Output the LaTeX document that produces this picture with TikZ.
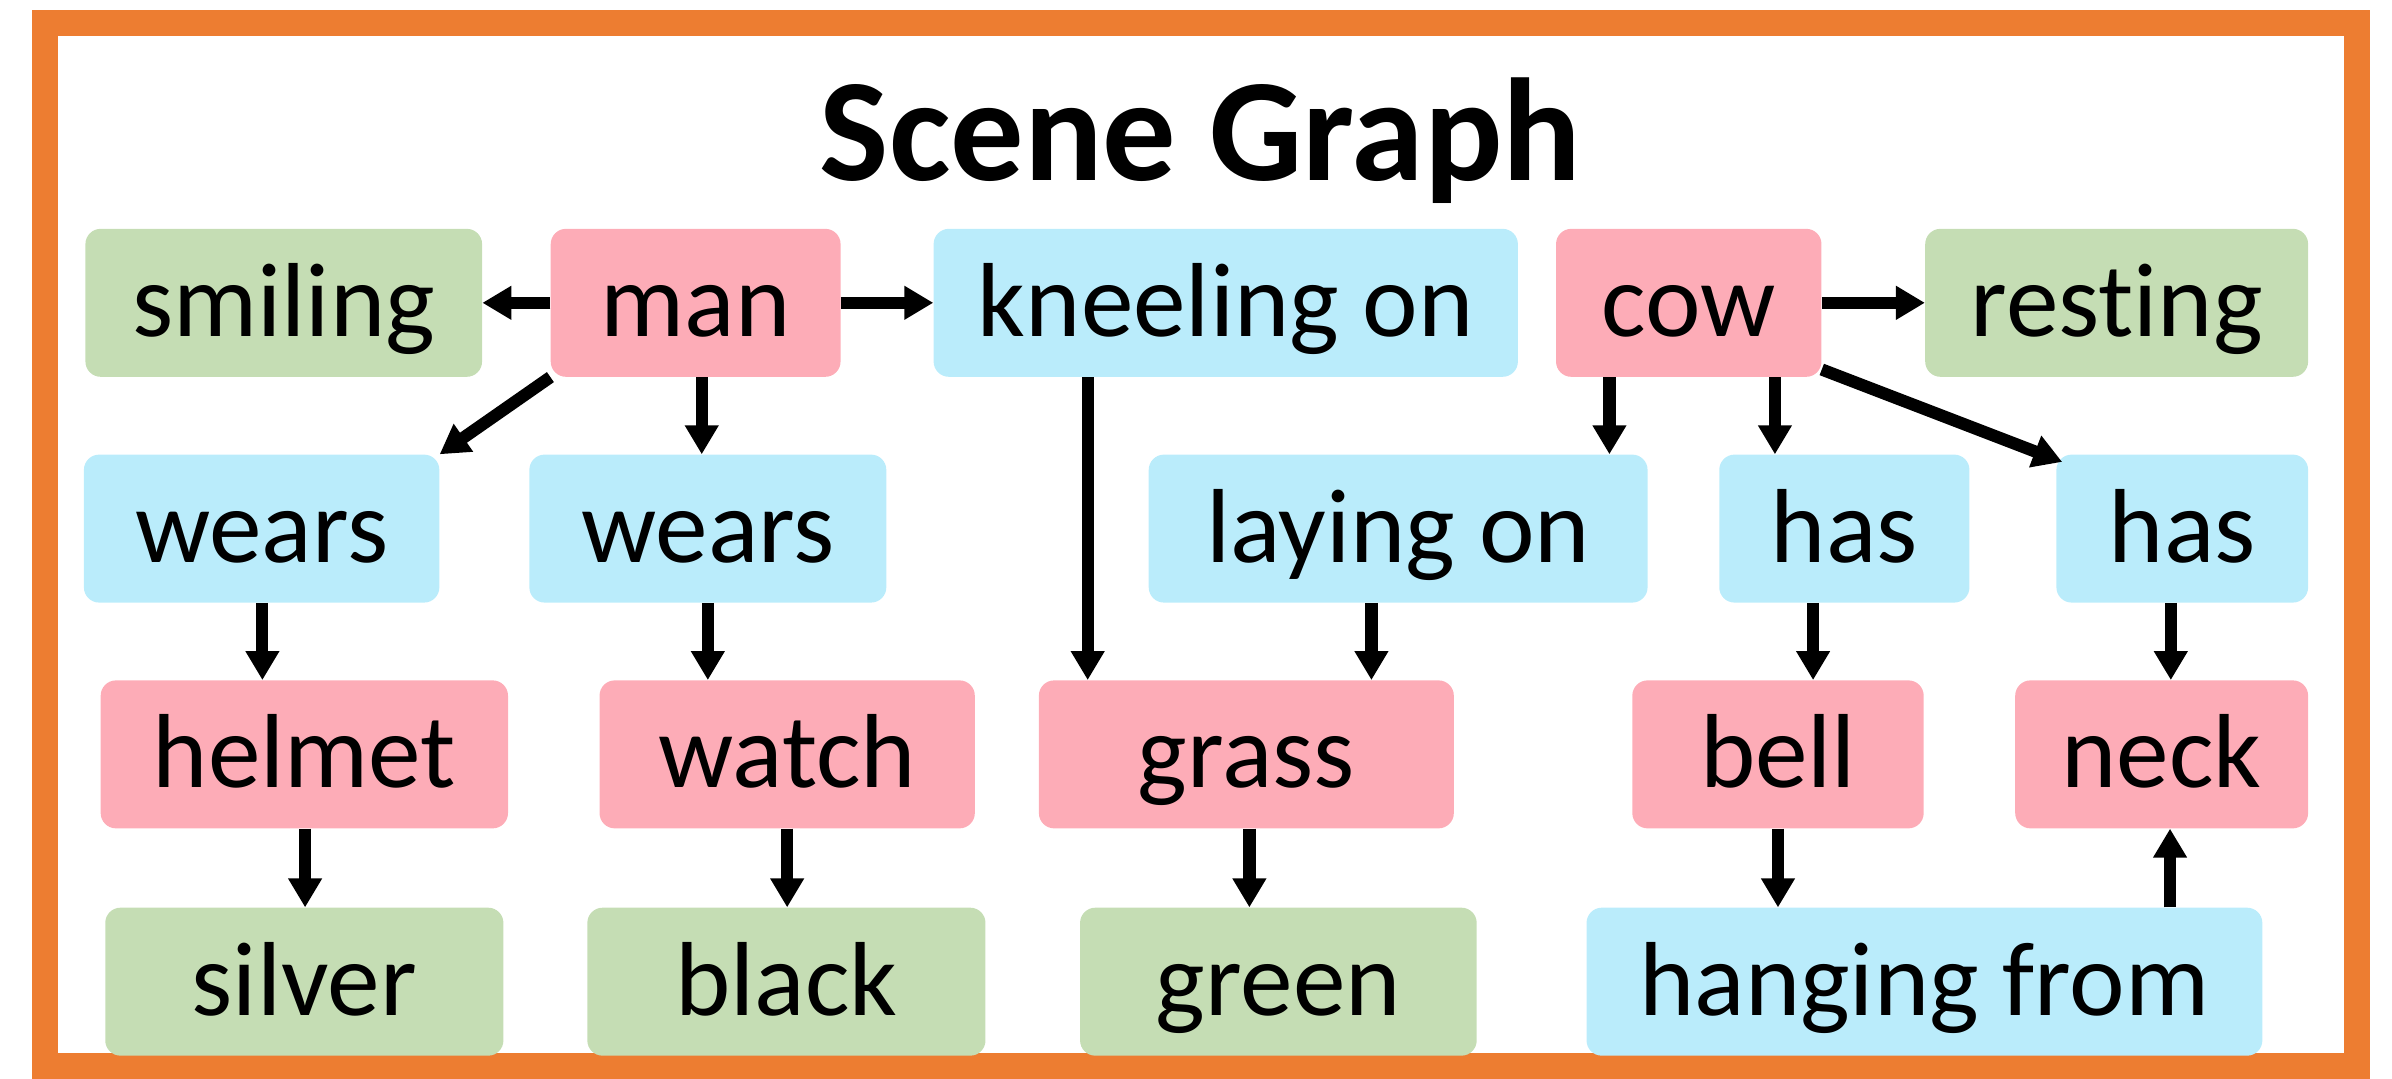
\documentclass[tikz,border=0pt]{standalone}
\usepackage{fontspec}
\setmainfont{Carlito}[RawFeature={-liga;-dlig;-clig}]
\usetikzlibrary{arrows.meta}
\definecolor{frameor}{HTML}{ED7D31}
\definecolor{objpink}{HTML}{FDACB7}
\definecolor{relblue}{HTML}{BAECFB}
\definecolor{attgreen}{HTML}{C5DDB4}
\tikzset{
  box/.style={rectangle, rounded corners=10pt, inner sep=0pt, minimum height=97pt,
    font=\fontsize{69}{69}\selectfont, text height=51pt, text depth=7pt},
  obj/.style={box, fill=objpink},
  rel/.style={box, fill=relblue},
  att/.style={box, fill=attgreen},
  arr/.style={line width=8pt, -{Triangle[width=21pt,length=19pt]}, black}
}
\begin{document}
\begin{tikzpicture}[x=1pt,y=-1pt]
\useasboundingbox (0,0) rectangle (1568,707);
\draw[frameor, line width=17pt] (29.5,15) rectangle (1545,698.5);
\node[font=\bfseries\fontsize{96}{96}\selectfont, anchor=base, inner sep=0pt] (title) at (787,118) {Scene Graph};
% row 1
\node[att, minimum width=260pt] (smiling) at (186,198.5) {smiling};
\node[obj, minimum width=190pt] (man) at (456,198.5) {man};
\node[rel, minimum width=383pt] (kneeling) at (803.5,198.5) {kneeling on};
\node[obj, minimum width=174pt] (cow) at (1107,198.5) {cow};
\node[att, minimum width=251pt] (resting) at (1387.5,198.5) {resting};
% row 2
\node[rel, minimum width=233pt] (wears1) at (171.5,346.5) {wears};
\node[rel, minimum width=234pt] (wears2) at (464,346.5) {wears};
\node[rel, minimum width=327pt] (laying) at (916.5,346.5) {laying on};
\node[rel, minimum width=164pt] (has1) at (1209,346.5) {has};
\node[rel, minimum width=165pt] (has2) at (1430.5,346.5) {has};
% row 3
\node[obj, minimum width=267pt] (helmet) at (199.5,494.5) {helmet};
\node[obj, minimum width=246pt] (watch) at (516,494.5) {watch};
\node[obj, minimum width=272pt] (grass) at (817,494.5) {grass};
\node[obj, minimum width=191pt] (bell) at (1165.5,494.5) {bell};
\node[obj, minimum width=192pt] (neck) at (1417,494.5) {neck};
% row 4
\node[att, minimum width=261pt] (silver) at (199.5,643.5) {silver};
\node[att, minimum width=261pt] (black) at (515.5,643.5) {black};
\node[att, minimum width=260pt] (green) at (838,643.5) {green};
\node[rel, minimum width=443pt] (hanging) at (1261.5,643.5) {hanging from};
% connectors
\draw[arr] (man.west) -- (smiling.east);
\draw[arr] (man.east) -- (kneeling.west);
\draw[arr] (man.south west) -- (wears1.north east);
\draw[arr] ([xshift=4pt]man.south) -- ([xshift=-4pt]wears2.north);
\draw[arr] ([xshift=-90.5pt]kneeling.south) -- ([xshift=-104pt]grass.north);
\draw[arr] (cow.east) -- (resting.west);
\draw[arr] ([xshift=-52pt]cow.south) -- ([xshift=138.5pt]laying.north);
\draw[arr] ([xshift=56.5pt]cow.south) -- ([xshift=-45.5pt]has1.north);
\draw[arr] ([yshift=5pt]cow.south east) -- ([xshift=4pt,yshift=-5pt]has2.north west);
\draw[arr] ([xshift=0.5pt]wears1.south) -- ([xshift=-27.5pt]helmet.north);
\draw[arr] (wears2.south) -- ([xshift=-52pt]watch.north);
\draw[arr] ([xshift=-17.5pt]laying.south) -- ([xshift=82pt]grass.north);
\draw[arr] ([xshift=-20.5pt]has1.south) -- ([xshift=23pt]bell.north);
\draw[arr] ([xshift=-7.5pt]has2.south) -- ([xshift=6pt]neck.north);
\draw[arr] ([xshift=0.5pt]helmet.south) -- ([xshift=0.5pt]silver.north);
\draw[arr] (watch.south) -- ([xshift=0.5pt]black.north);
\draw[arr] ([xshift=2pt]grass.south) -- ([xshift=-19pt]green.north);
\draw[arr] (bell.south) -- ([xshift=-96pt]hanging.north);
\draw[arr] ([xshift=161pt]hanging.north) -- ([xshift=5.5pt]neck.south);
\end{tikzpicture}
\end{document}
